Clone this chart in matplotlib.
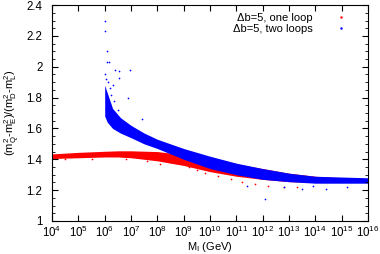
import numpy as np
import matplotlib
matplotlib.use("Agg")
import matplotlib.pyplot as plt
from matplotlib.lines import Line2D
from matplotlib.ticker import MultipleLocator, FixedLocator

plt.rcParams['font.family'] = ['Liberation Sans', 'DejaVu Sans']
plt.rcParams['mathtext.fontset'] = 'custom'
plt.rcParams['mathtext.rm'] = 'Liberation Sans'
plt.rcParams['mathtext.it'] = 'Liberation Sans'

# one loop (red) band envelope, x = log10(M_I / GeV)
red_logm = [4.0, 5.0, 6.0, 6.5, 7.0, 8.0, 9.0, 10.0, 11.0, 12.0, 13.0, 14.0, 15.0, 16.0]
red_hi = [1.435, 1.445, 1.452, 1.455, 1.455, 1.45, 1.43, 1.40, 1.37, 1.34, 1.31, 1.29, 1.28, 1.275]
red_lo = [1.405, 1.41, 1.415, 1.415, 1.41, 1.39, 1.36, 1.32, 1.29, 1.27, 1.255, 1.25, 1.25, 1.25]

# two loops (blue) band envelope
blue_logm = [6.0, 6.1, 6.3, 6.6, 7.0, 7.5, 8.0, 9.0, 10.0, 11.0, 12.0, 13.0, 14.0, 15.0, 16.0]
blue_hi = [1.88, 1.83, 1.73, 1.67, 1.62, 1.57, 1.53, 1.47, 1.42, 1.375, 1.34, 1.31, 1.29, 1.285, 1.28]
blue_lo = [1.68, 1.64, 1.60, 1.57, 1.54, 1.50, 1.47, 1.40, 1.34, 1.30, 1.27, 1.255, 1.245, 1.245, 1.245]

# sparse points away from the dense bands
blue_out_logm = [6.0, 6.0, 6.08, 6.1, 6.15, 6.4, 6.55, 6.95, 6.55, 6.3, 6.9, 7.4, 6.05, 6.12, 6.2,
                 6.25, 6.02, 6.35, 6.5, 12.1, 13.5, 14.4, 15.2, 11.4, 12.8, 13.9]
blue_out_y = [2.30, 2.23, 2.10, 2.03, 2.03, 1.98, 1.97, 1.98, 1.93, 1.88, 1.80, 1.66, 1.92, 1.90, 1.86,
              1.82, 1.95, 1.78, 1.72, 1.14, 1.21, 1.21, 1.22, 1.23, 1.22, 1.23]
red_out_logm = [8.5, 9.2, 9.8, 10.3, 10.8, 11.2, 11.7, 12.2, 12.8, 13.3, 7.6, 8.1, 9.5, 4.5, 5.5, 6.8]
red_out_y = [1.38, 1.35, 1.31, 1.29, 1.27, 1.25, 1.24, 1.23, 1.22, 1.22, 1.39, 1.37, 1.33, 1.40, 1.405, 1.40]

fig = plt.figure(figsize=(3.8, 2.54), dpi=100)
ax = fig.add_axes([0.137, 0.13, 0.831, 0.85])

mr = 10.0 ** np.array(red_logm)
mb = 10.0 ** np.array(blue_logm)
ax.fill_between(mr, red_lo, red_hi, color='#ff0000', lw=0)
ax.scatter(10.0 ** np.array(red_out_logm), red_out_y, s=1.5, color='#ff0000', lw=0)
ax.fill_between(mb, blue_lo, blue_hi, color='#0000ff', lw=0)
ax.scatter(10.0 ** np.array(blue_out_logm), blue_out_y, s=1.5, color='#0000ff', lw=0)

ax.set_xscale('log')
ax.set_xlim(1e4, 1e16)
ax.set_ylim(1, 2.4)
ax.xaxis.set_major_locator(FixedLocator([10.0 ** k for k in range(4, 17)]))
ax.xaxis.set_minor_locator(FixedLocator([]))
ax.yaxis.set_major_locator(MultipleLocator(0.2))
ax.yaxis.set_minor_locator(MultipleLocator(0.05))
ax.yaxis.set_major_formatter(plt.FuncFormatter(lambda v, p: '%g' % v))
ax.tick_params(which='both', direction='in', top=True, right=True, labelsize=8.3)
ax.tick_params(axis='x', pad=3)
ax.tick_params(axis='y', pad=7)
ax.tick_params(which='major', length=4)
ax.tick_params(which='minor', length=2)

ax.set_xlabel('M$_\\mathrm{I}$ (GeV)', fontsize=8, labelpad=0)
ax.set_ylabel('(m$_\\mathrm{Q}^2$-m$_\\mathrm{E}^2$)/(m$_\\mathrm{D}^2$-m$_\\mathrm{L}^2$)', fontsize=8, labelpad=3)

handles = [Line2D([], [], ls='none', marker='.', ms=1.5, color='#ff0000'),
           Line2D([], [], ls='none', marker='.', ms=1.5, color='#0000ff')]
ax.legend(handles, ['Δb=5, one loop', 'Δb=5, two loops'], loc='upper right',
          bbox_to_anchor=(0.965, 1.0), frameon=False, markerfirst=False, fontsize=8,
          handlelength=1.5, handletextpad=1.8, labelspacing=0.1, borderaxespad=0.3)

fig.savefig('out.png', dpi=100)
